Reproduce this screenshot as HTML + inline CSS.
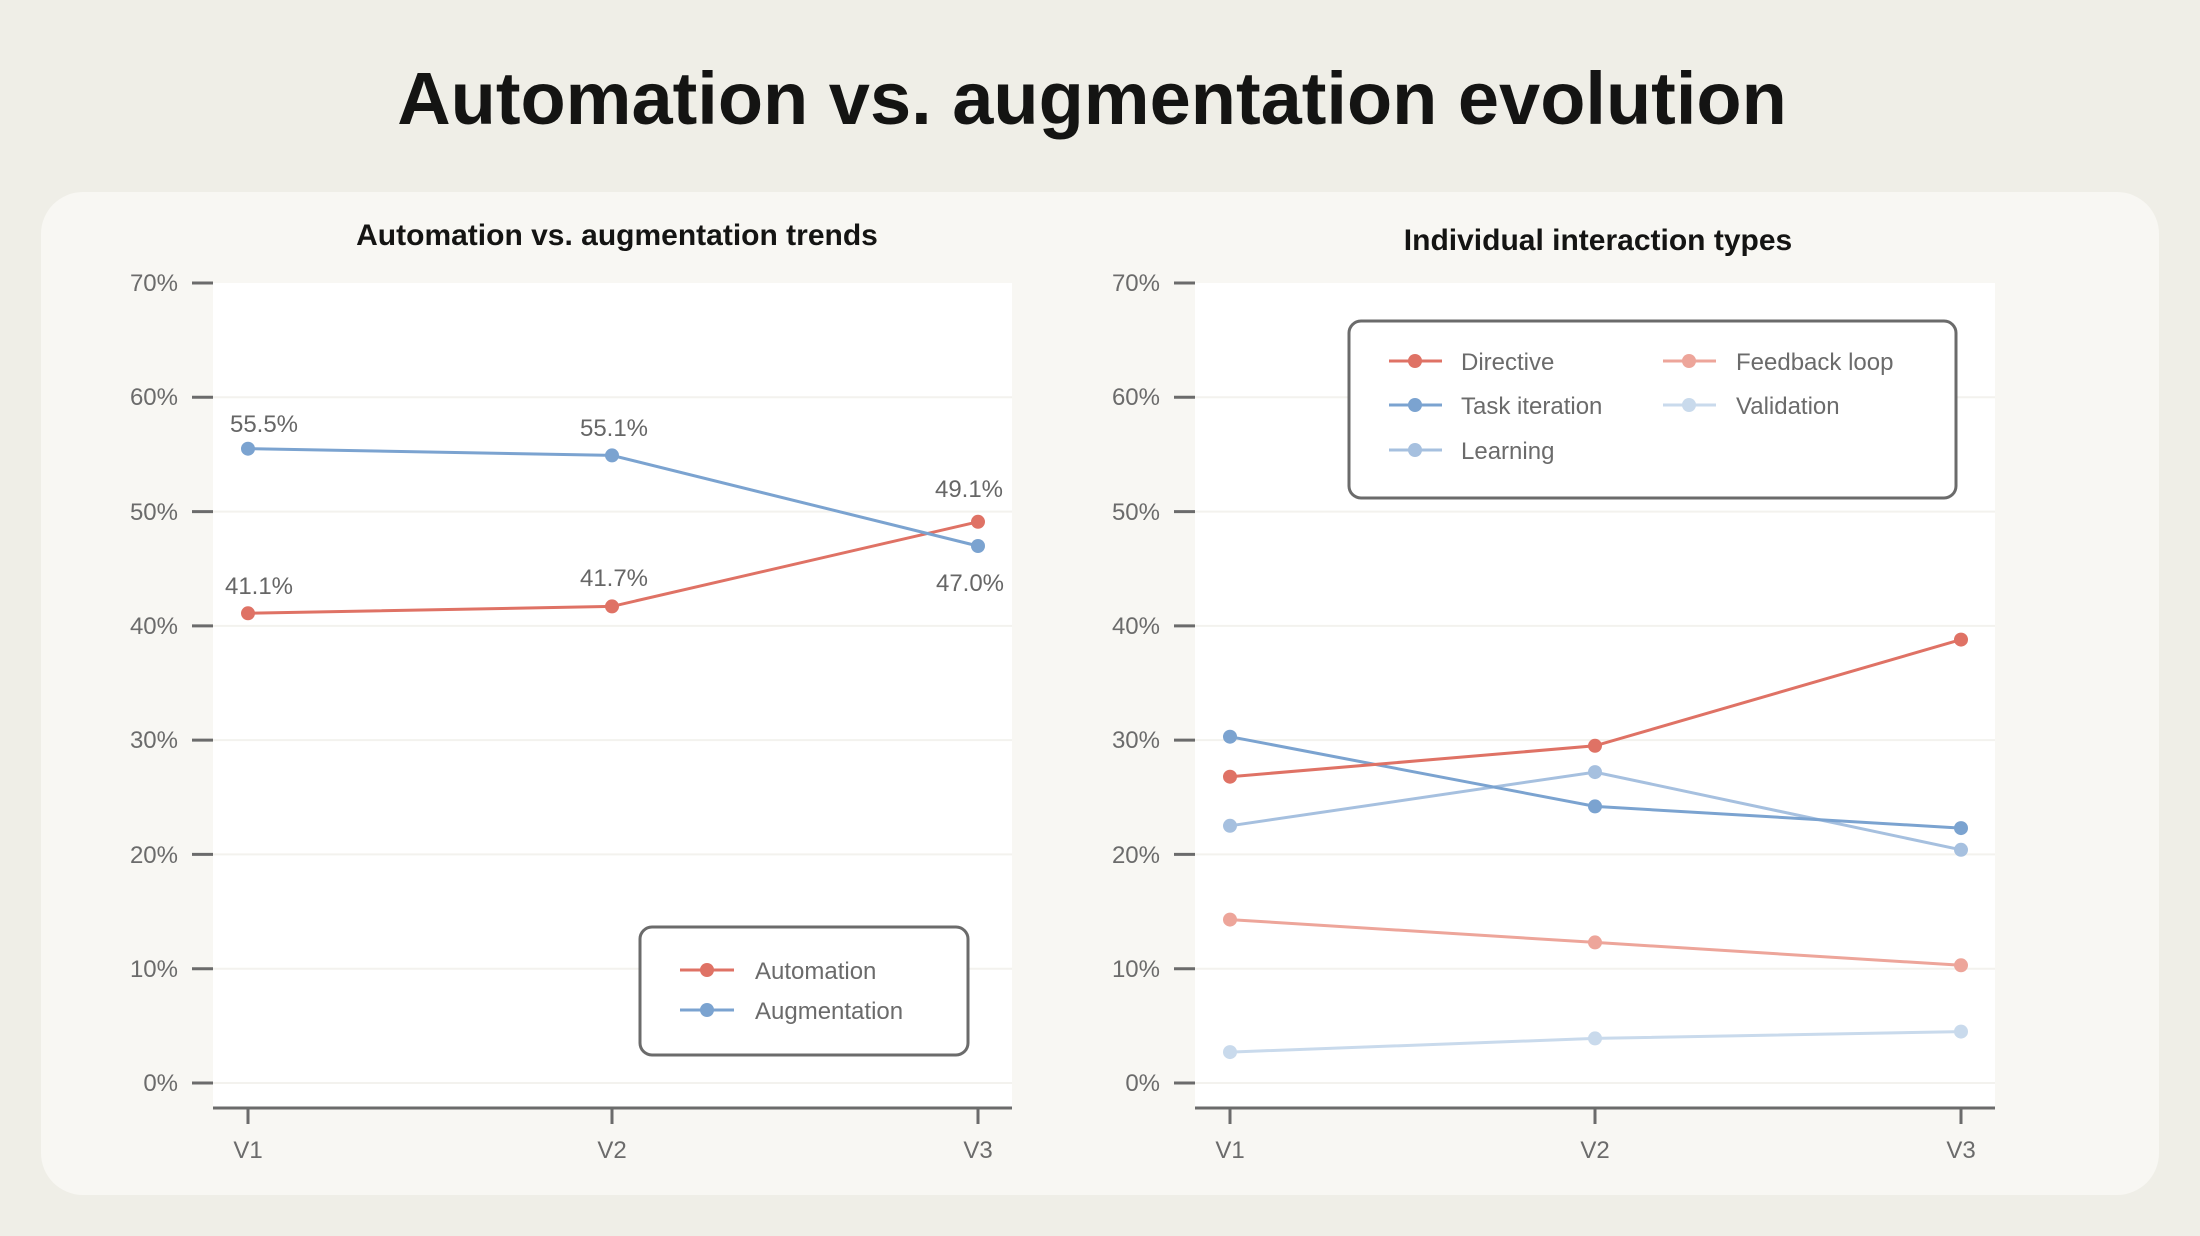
<!DOCTYPE html>
<html><head><meta charset="utf-8"><style>
html,body{margin:0;padding:0;background:#efeee7;}
svg{display:block;}
text{font-family:"Liberation Sans","DejaVu Sans",sans-serif;}
</style></head><body>
<svg width="2200" height="1236" viewBox="0 0 2200 1236" xmlns="http://www.w3.org/2000/svg">
<rect width="2200" height="1236" fill="#efeee7"/>
<text x="1092" y="124" text-anchor="middle" font-size="74" font-weight="bold" fill="#141413">Automation vs. augmentation evolution</text>
<rect x="41" y="192" width="2118" height="1003" rx="42" fill="#f8f7f3"/>
<text x="617" y="245" text-anchor="middle" font-size="30" font-weight="bold" fill="#141413">Automation vs. augmentation trends</text>
<text x="1598" y="250" text-anchor="middle" font-size="30" font-weight="bold" fill="#141413">Individual interaction types</text>

<!-- left plot -->
<rect x="213" y="283" width="799" height="825" fill="#ffffff"/>
<g stroke="#f3f2ee" stroke-width="2">
<line x1="213" x2="1012" y1="1083" y2="1083"/><line x1="213" x2="1012" y1="968.7" y2="968.7"/><line x1="213" x2="1012" y1="854.4" y2="854.4"/><line x1="213" x2="1012" y1="740.1" y2="740.1"/><line x1="213" x2="1012" y1="625.9" y2="625.9"/><line x1="213" x2="1012" y1="511.6" y2="511.6"/><line x1="213" x2="1012" y1="397.3" y2="397.3"/>
</g>
<g stroke="#6b6b6b" stroke-width="3">
<line x1="192" x2="213" y1="1083" y2="1083"/><line x1="192" x2="213" y1="968.7" y2="968.7"/><line x1="192" x2="213" y1="854.4" y2="854.4"/><line x1="192" x2="213" y1="740.1" y2="740.1"/><line x1="192" x2="213" y1="625.9" y2="625.9"/><line x1="192" x2="213" y1="511.6" y2="511.6"/><line x1="192" x2="213" y1="397.3" y2="397.3"/><line x1="192" x2="213" y1="283" y2="283"/>
<line x1="213" x2="1012" y1="1108" y2="1108"/>
<line x1="248" x2="248" y1="1108" y2="1124"/><line x1="612" x2="612" y1="1108" y2="1124"/><line x1="978" x2="978" y1="1108" y2="1124"/>
</g>
<g font-size="24" fill="#6b6b6b" text-anchor="end">
<text x="178" y="1091">0%</text><text x="178" y="977">10%</text><text x="178" y="863">20%</text><text x="178" y="748">30%</text><text x="178" y="634">40%</text><text x="178" y="520">50%</text><text x="178" y="405">60%</text><text x="178" y="291">70%</text>
</g>
<g font-size="24" fill="#6b6b6b" text-anchor="middle">
<text x="248" y="1158">V1</text><text x="612" y="1158">V2</text><text x="978" y="1158">V3</text>
</g>
<polyline points="248,613.3 612,606.4 978,521.8" fill="none" stroke="#df7265" stroke-width="3"/>
<polyline points="248,448.7 612,455.4 978,546.0" fill="none" stroke="#7ba3d0" stroke-width="3"/>
<g fill="#7ba3d0"><circle cx="248" cy="448.7" r="7"/><circle cx="612" cy="455.4" r="7"/><circle cx="978" cy="546.0" r="7"/></g>
<g fill="#df7265"><circle cx="248" cy="613.3" r="7"/><circle cx="612" cy="606.4" r="7"/><circle cx="978" cy="521.8" r="7"/></g>
<g font-size="24" fill="#666" text-anchor="middle">
<text x="264" y="432">55.5%</text><text x="614" y="436">55.1%</text><text x="969" y="497">49.1%</text><text x="970" y="591">47.0%</text><text x="259" y="594">41.1%</text><text x="614" y="586">41.7%</text>
</g>
<rect x="640" y="927" width="328" height="128" rx="12" fill="#fff" stroke="#6b6b6b" stroke-width="3"/>
<line x1="680" x2="734" y1="970" y2="970" stroke="#df7265" stroke-width="3"/><circle cx="707" cy="970" r="7" fill="#df7265"/>
<line x1="680" x2="734" y1="1010" y2="1010" stroke="#7ba3d0" stroke-width="3"/><circle cx="707" cy="1010" r="7" fill="#7ba3d0"/>
<g font-size="24" fill="#6b6b6b"><text x="755" y="979">Automation</text><text x="755" y="1019">Augmentation</text></g>

<!-- right plot -->
<rect x="1195" y="283" width="800" height="825" fill="#ffffff"/>
<g stroke="#f3f2ee" stroke-width="2">
<line x1="1195" x2="1995" y1="1083" y2="1083"/><line x1="1195" x2="1995" y1="968.7" y2="968.7"/><line x1="1195" x2="1995" y1="854.4" y2="854.4"/><line x1="1195" x2="1995" y1="740.1" y2="740.1"/><line x1="1195" x2="1995" y1="625.9" y2="625.9"/><line x1="1195" x2="1995" y1="511.6" y2="511.6"/><line x1="1195" x2="1995" y1="397.3" y2="397.3"/>
</g>
<g stroke="#6b6b6b" stroke-width="3">
<line x1="1174" x2="1195" y1="1083" y2="1083"/><line x1="1174" x2="1195" y1="968.7" y2="968.7"/><line x1="1174" x2="1195" y1="854.4" y2="854.4"/><line x1="1174" x2="1195" y1="740.1" y2="740.1"/><line x1="1174" x2="1195" y1="625.9" y2="625.9"/><line x1="1174" x2="1195" y1="511.6" y2="511.6"/><line x1="1174" x2="1195" y1="397.3" y2="397.3"/><line x1="1174" x2="1195" y1="283" y2="283"/>
<line x1="1195" x2="1995" y1="1108" y2="1108"/>
<line x1="1230" x2="1230" y1="1108" y2="1124"/><line x1="1595" x2="1595" y1="1108" y2="1124"/><line x1="1961" x2="1961" y1="1108" y2="1124"/>
</g>
<g font-size="24" fill="#6b6b6b" text-anchor="end">
<text x="1160" y="1091">0%</text><text x="1160" y="977">10%</text><text x="1160" y="863">20%</text><text x="1160" y="748">30%</text><text x="1160" y="634">40%</text><text x="1160" y="520">50%</text><text x="1160" y="405">60%</text><text x="1160" y="291">70%</text>
</g>
<g font-size="24" fill="#6b6b6b" text-anchor="middle">
<text x="1230" y="1158">V1</text><text x="1595" y="1158">V2</text><text x="1961" y="1158">V3</text>
</g>
<polyline points="1230,1052.1 1595,1038.4 1961,1031.6" fill="none" stroke="#c9daec" stroke-width="3"/>
<g fill="#c9daec"><circle cx="1230" cy="1052.1" r="7"/><circle cx="1595" cy="1038.4" r="7"/><circle cx="1961" cy="1031.6" r="7"/></g>
<polyline points="1230,919.6 1595,942.4 1961,965.3" fill="none" stroke="#eda59a" stroke-width="3"/>
<g fill="#eda59a"><circle cx="1230" cy="919.6" r="7"/><circle cx="1595" cy="942.4" r="7"/><circle cx="1961" cy="965.3" r="7"/></g>
<polyline points="1230,825.8 1595,772.1 1961,849.8" fill="none" stroke="#a6c0df" stroke-width="3"/>
<g fill="#a6c0df"><circle cx="1230" cy="825.8" r="7"/><circle cx="1595" cy="772.1" r="7"/><circle cx="1961" cy="849.8" r="7"/></g>
<polyline points="1230,736.7 1595,806.4 1961,828.1" fill="none" stroke="#7ba3d0" stroke-width="3"/>
<g fill="#7ba3d0"><circle cx="1230" cy="736.7" r="7"/><circle cx="1595" cy="806.4" r="7"/><circle cx="1961" cy="828.1" r="7"/></g>
<polyline points="1230,776.7 1595,745.8 1961,639.6" fill="none" stroke="#df7265" stroke-width="3"/>
<g fill="#df7265"><circle cx="1230" cy="776.7" r="7"/><circle cx="1595" cy="745.8" r="7"/><circle cx="1961" cy="639.6" r="7"/></g>

<rect x="1349" y="321" width="607" height="177" rx="12" fill="#fff" stroke="#6b6b6b" stroke-width="3"/>
<line x1="1389" x2="1442" y1="361" y2="361" stroke="#df7265" stroke-width="3"/><circle cx="1415" cy="361" r="7" fill="#df7265"/>
<line x1="1389" x2="1442" y1="405" y2="405" stroke="#7ba3d0" stroke-width="3"/><circle cx="1415" cy="405" r="7" fill="#7ba3d0"/>
<line x1="1389" x2="1442" y1="450" y2="450" stroke="#a6c0df" stroke-width="3"/><circle cx="1415" cy="450" r="7" fill="#a6c0df"/>
<line x1="1663" x2="1716" y1="361" y2="361" stroke="#eda59a" stroke-width="3"/><circle cx="1689" cy="361" r="7" fill="#eda59a"/>
<line x1="1663" x2="1716" y1="405" y2="405" stroke="#c9daec" stroke-width="3"/><circle cx="1689" cy="405" r="7" fill="#c9daec"/>
<g font-size="24" fill="#6b6b6b">
<text x="1461" y="370">Directive</text><text x="1461" y="414">Task iteration</text><text x="1461" y="459">Learning</text>
<text x="1736" y="370">Feedback loop</text><text x="1736" y="414">Validation</text>
</g>
</svg>
</body></html>
